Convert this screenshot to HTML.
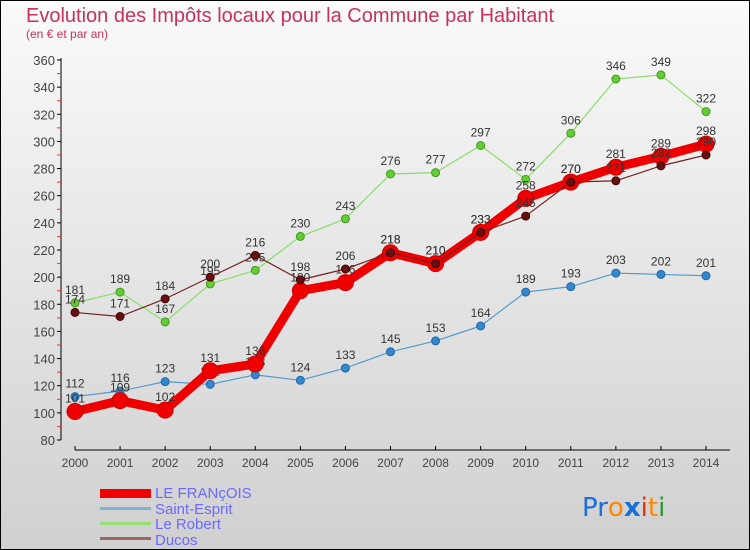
<!DOCTYPE html>
<html><head><meta charset="utf-8"><style>
body{margin:0}
svg{display:block;font-family:"Liberation Sans",sans-serif}
</style></head><body>
<svg id="c" width="750" height="550" xmlns="http://www.w3.org/2000/svg">
<defs><linearGradient id="bg" x1="0" y1="0" x2="0" y2="1"><stop offset="0" stop-color="#fafafa"/><stop offset="1" stop-color="#d0d0d0"/></linearGradient></defs>
<rect x="0.5" y="0.5" width="749" height="549" fill="url(#bg)" stroke="#000"/>
<text x="26" y="22" font-size="20" fill="#c8325a">Evolution des Impôts locaux pour la Commune par Habitant</text>
<text x="26" y="38" font-size="12" fill="#c8325a">(en € et par an)</text>
<g id="axes"></g>
<g id="series"></g>
<g>
<rect x="100" y="489" width="51" height="9" fill="#e00"/>
<text x="155" y="498" font-size="15" fill="#6a6aff">LE FRANçOIS</text>
<rect x="100" y="507" width="51" height="3" fill="#7fb3d5"/>
<text x="155" y="514" font-size="15" fill="#6a6aff">Saint-Esprit</text>
<rect x="100" y="522" width="51" height="3" fill="#99dd77"/>
<text x="155" y="529" font-size="15" fill="#6a6aff">Le Robert</text>
<rect x="100" y="537" width="51" height="3" fill="#996666"/>
<text x="155" y="545" font-size="15" fill="#6a6aff">Ducos</text>
</g>
<g font-size="26" font-family="'DejaVu Sans',sans-serif">
<text x="582" y="516"><tspan fill="#1a6ed8">Pr</tspan><tspan fill="#2a9a2a" font-size="0">.</tspan><tspan fill="#ff8800">o</tspan><tspan fill="#1a6ed8" font-weight="bold">x</tspan><tspan fill="#e03010">i</tspan><tspan fill="#ff8800">t</tspan><tspan fill="#2a9a2a">i</tspan></text>
</g>
</svg>
<script>
const years=[2000,2001,2002,2003,2004,2005,2006,2007,2008,2009,2010,2011,2012,2013,2014];
const yTicks=[80,100,120,140,160,180,200,220,240,260,280,300,320,340,360];
const leFrancois=[101,109,102,131,136,190,196,218,210,233,258,270,281,289,298];
const saintEsprit=[112,116,123,121,128,124,133,145,153,164,189,193,203,202,201];
const leRobert=[181,189,167,195,205,230,243,276,277,297,272,306,346,349,322];
const ducos=[174,171,184,200,216,198,206,218,210,233,245,270,271,282,290];
const NS="http://www.w3.org/2000/svg";
const X=i=>75+i*(706-75)/14;
const Y=v=>440-(v-80)*380/280;
function mk(t,a,p){const e=document.createElementNS(NS,t);for(const k in a)e.setAttribute(k,a[k]);p.appendChild(e);return e;}
const ax=document.getElementById('axes');
mk('line',{x1:61,y1:58,x2:61,y2:440,stroke:'#000'},ax);
mk('line',{x1:75,y1:450,x2:730,y2:450,stroke:'#000'},ax);
yTicks.forEach(v=>{
  mk('line',{x1:57,y1:Y(v),x2:61,y2:Y(v),stroke:'#000'},ax);
  if(v<360)mk('line',{x1:57,y1:Y(v+10),x2:61,y2:Y(v+10),stroke:'#e33'},ax);
  const t=mk('text',{x:55,y:Y(v)+5,'text-anchor':'end','font-size':13,fill:'#444'},ax);
  
  
  t.textContent=v;
});
years.forEach((yr,i)=>{
  mk('line',{x1:X(i),y1:446,x2:X(i),y2:450,stroke:'#000'},ax);
  const t=mk('text',{x:X(i),y:467,'text-anchor':'middle','font-size':12,fill:'#444'},ax);
  
  
  t.textContent=yr;
});
const sg=document.getElementById('series');
function draw(vals,name,color,dot,w,r,dotStroke){
  const g=mk('g',{},sg);
  
  
  const pl=mk('polyline',{points:vals.map((v,i)=>X(i)+','+Y(v)).join(' '),fill:'none',stroke:color,'stroke-width':w,'stroke-linejoin':'round'},g);
  
  
  vals.forEach((v,i)=>{
    const c=mk('circle',{cx:X(i),cy:Y(v),r:r,fill:dot,stroke:dotStroke,'stroke-width':1},g);
    
    
    const t=mk('text',{x:X(i),y:Y(v)-9,'text-anchor':'middle','font-size':12,fill:'#333'},g);
    
    
    t.textContent=v;
  });
}
draw(saintEsprit,'saint-esprit','#5599cc','#3388cc',1.2,4,'#2266aa');
draw(leRobert,'le-robert','#88dd66','#66cc33',1.2,4,'#449922');
draw(leFrancois,'le-francois','#ee0000','#ee0000',9,8,'#cc0000');
draw(ducos,'ducos','#772222','#661111',1.2,4,'#440000');
</script>
</body></html>
